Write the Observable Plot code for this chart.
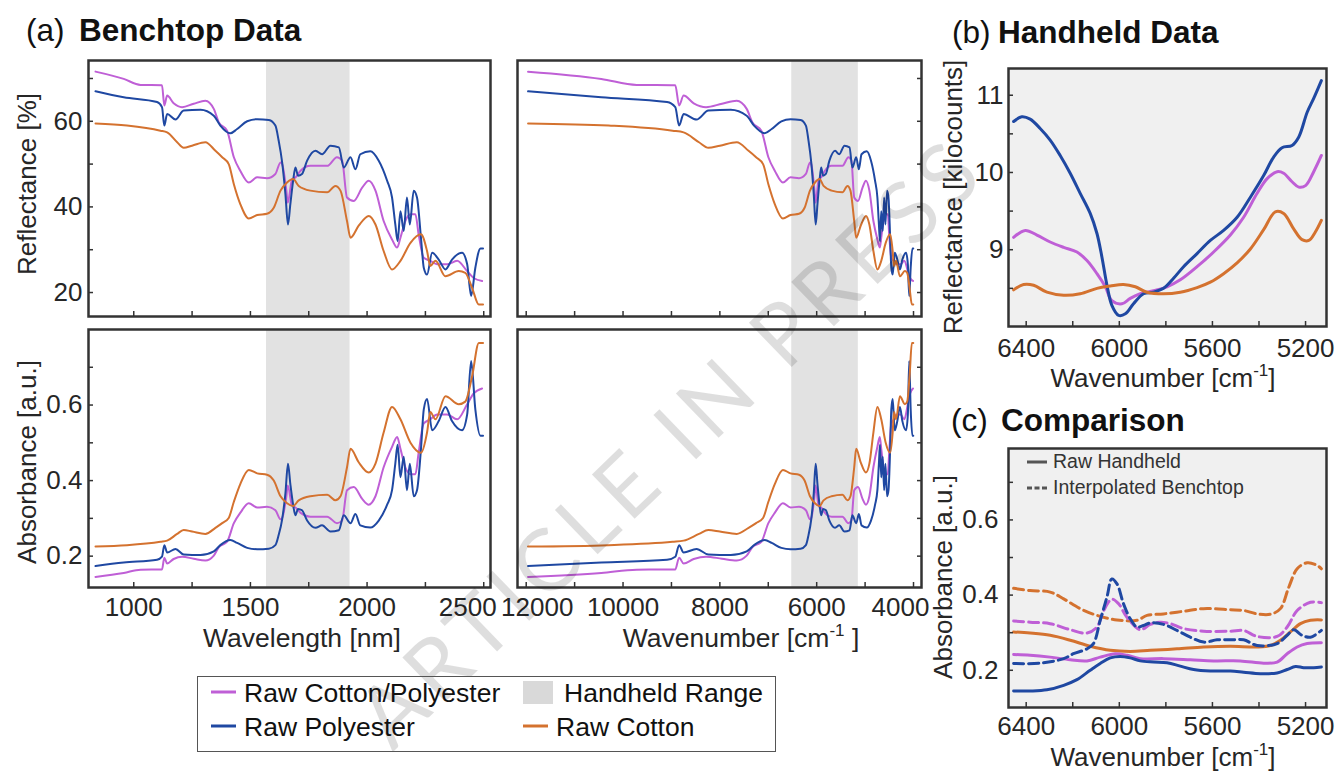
<!DOCTYPE html>
<html><head><meta charset="utf-8">
<script src="https://cdn.jsdelivr.net/npm/d3@7"></script>
<script src="https://cdn.jsdelivr.net/npm/@observablehq/plot@0.6"></script>
<style>
body{margin:0;background:#fff;}
#fig{position:relative;width:1340px;height:774px;overflow:hidden;background:#fff;font-family:Arial,"Liberation Sans",sans-serif;}
#fig svg{position:absolute;left:0;top:0;}
</style></head><body><div id="fig"></div>
<script>
// ---------- Benchtop reflectance spectra (wavelength nm, reflectance %) ----------
const cpNm = [836,957,1029,1121,1131,1143,1171,1207,1257,1307,1343,1364,1400,1429,1457,1493,1529,1571,1607,1629,1636,1654,1660,1679,1693,1714,1757,1829,1871,1893,1914,1943,1979,2007,2036,2071,2107,2129,2143,2164,2186,2207,2221,2243,2271,2300,2343,2386,2429,2457,2493];
const cpR  = [71.6,69.9,68.5,68.4,63.7,66.0,64.2,63.3,64.1,64.8,62.9,59.8,57.8,51.6,48.4,45.7,46.9,46.7,47.7,50.4,50.0,43.8,41.0,46.5,46.9,48.4,49.6,49.6,51.6,50.8,42.2,41.4,44.5,46.1,43.8,36.7,32.4,30.5,32.8,36.7,38.3,38.3,33.6,28.1,27.4,26.6,26.6,27.4,25.0,23.4,22.7];
const peNm = [836,957,1100,1121,1131,1143,1179,1214,1286,1343,1371,1414,1443,1486,1529,1579,1607,1621,1636,1650,1661,1671,1683,1693,1704,1721,1743,1779,1807,1843,1879,1900,1929,1950,1971,2014,2050,2086,2107,2121,2131,2143,2157,2171,2183,2200,2214,2231,2243,2257,2279,2307,2336,2364,2407,2429,2446,2464,2486,2497];
const peR  = [67.0,65.6,64.5,63.3,59.0,61.7,60.4,62.5,62.7,61.3,59.0,57.2,58.2,60.0,60.5,60.3,59.0,55.5,50.4,43.0,35.9,40.6,46.1,49.2,47.3,47.7,50.8,53.1,52.3,54.3,53.9,49.2,51.6,48.8,52.3,53.0,50.8,46.1,42.2,35.9,32.0,39.0,34.4,42.2,35.9,43.8,42.2,32.8,25.8,24.2,29.3,27.7,25.4,27.7,29.3,26.6,19.2,25.8,30.3,30.3];
const coNm = [836,971,1114,1143,1186,1214,1250,1307,1350,1379,1407,1429,1457,1493,1529,1571,1600,1629,1657,1683,1707,1757,1829,1864,1886,1914,1929,1964,2007,2036,2071,2107,2143,2186,2231,2257,2271,2293,2336,2393,2421,2450,2479,2497];
const coR  = [59.5,59.0,57.8,57.4,55.1,53.8,54.3,55.1,53.1,51.6,50.0,45.3,40.6,37.3,38.1,38.4,39.8,43.8,45.7,46.5,44.9,43.8,43.4,44.9,43.8,36.7,32.8,35.6,37.9,35.9,29.7,25.4,27.4,31.6,33.6,29.7,26.2,27.4,23.8,25.0,24.6,21.1,17.2,17.2];
const bandNm = [1569, 1927];
const bandCm = [6515, 5140];

// ---------- Handheld reflectance (wavenumber cm-1, kilocounts) ----------
const hhPeK = [6454,6419,6383,6340,6297,6254,6211,6168,6125,6096,6075,6053,6032,6003,5974,5939,5896,5853,5810,5767,5724,5666,5609,5552,5494,5437,5380,5337,5301,5258,5229,5193,5165,5132];
const hhPeV = [10.66,10.72,10.69,10.57,10.42,10.22,9.99,9.73,9.47,9.21,8.91,8.54,8.28,8.15,8.17,8.30,8.43,8.45,8.50,8.63,8.78,8.95,9.12,9.25,9.42,9.68,9.96,10.20,10.32,10.35,10.46,10.78,10.96,11.19];
const hhCpK = [6454,6404,6354,6297,6239,6182,6139,6096,6060,6032,5989,5953,5910,5853,5795,5738,5666,5595,5523,5466,5408,5365,5322,5294,5258,5229,5200,5165,5132];
const hhCpV = [9.16,9.25,9.19,9.10,9.03,8.97,8.86,8.69,8.52,8.34,8.30,8.37,8.43,8.47,8.52,8.61,8.78,8.97,9.19,9.42,9.73,9.92,10.01,9.99,9.88,9.81,9.83,10.01,10.22];
const hhCoK = [6454,6411,6368,6311,6239,6168,6096,6039,5982,5931,5881,5810,5738,5666,5609,5552,5494,5437,5380,5330,5294,5251,5215,5186,5158,5132];
const hhCoV = [8.48,8.55,8.54,8.45,8.41,8.43,8.50,8.53,8.55,8.52,8.45,8.43,8.45,8.51,8.58,8.69,8.83,9.01,9.26,9.49,9.47,9.27,9.13,9.12,9.23,9.38];

// ---------- Comparison: raw handheld absorbance (solid) ----------
const rawPeK = [6454,6383,6311,6239,6182,6125,6082,6039,5996,5953,5910,5853,5795,5738,5681,5609,5523,5466,5394,5322,5279,5243,5208,5165,5132];
const rawPeV = [0.145,0.145,0.148,0.160,0.175,0.200,0.218,0.233,0.237,0.233,0.225,0.222,0.220,0.211,0.202,0.198,0.198,0.195,0.191,0.193,0.202,0.210,0.207,0.207,0.209];
const rawCpK = [6454,6383,6297,6211,6139,6082,6017,5967,5910,5810,5695,5595,5480,5380,5322,5279,5236,5193,5132];
const rawCpV = [0.242,0.240,0.235,0.228,0.225,0.235,0.244,0.240,0.231,0.231,0.228,0.225,0.225,0.219,0.222,0.244,0.262,0.271,0.273];
const rawCoK = [6454,6383,6297,6211,6125,6039,5953,5867,5752,5638,5523,5408,5351,5308,5265,5222,5179,5132];
const rawCoV = [0.302,0.299,0.293,0.280,0.264,0.253,0.250,0.253,0.257,0.262,0.264,0.262,0.266,0.280,0.302,0.324,0.333,0.334];
// ---------- Comparison: interpolated benchtop absorbance (dashed) ----------
const intCoK = [6454,6383,6297,6239,6168,6096,6010,5924,5881,5810,5724,5638,5523,5466,5408,5351,5308,5272,5236,5193,5150,5132];
const intCoV = [0.418,0.412,0.408,0.390,0.364,0.346,0.334,0.333,0.346,0.350,0.357,0.364,0.361,0.359,0.350,0.349,0.364,0.421,0.470,0.486,0.479,0.470];
const intCpK = [6454,6383,6297,6211,6139,6096,6067,6032,6003,5967,5910,5867,5824,5781,5724,5638,5523,5466,5408,5322,5279,5236,5179,5132];
const intCpV = [0.331,0.328,0.324,0.308,0.299,0.315,0.359,0.389,0.377,0.341,0.308,0.322,0.328,0.324,0.311,0.304,0.304,0.306,0.290,0.290,0.315,0.359,0.381,0.380];
const intPeK = [6454,6340,6239,6197,6139,6111,6082,6053,6032,6010,5982,5953,5924,5896,5867,5810,5752,5695,5638,5580,5523,5466,5408,5322,5279,5251,5215,5179,5132];
const intPeV = [0.218,0.219,0.231,0.244,0.257,0.271,0.333,0.395,0.443,0.430,0.377,0.337,0.315,0.319,0.326,0.322,0.306,0.288,0.275,0.281,0.281,0.281,0.266,0.271,0.293,0.308,0.293,0.288,0.306];

// ---------- Ticks ----------
const nmTicks = [1000,1250,1500,1750,2000,2250,2500];
const nmLabels = [1000,1500,2000];
const nmEdgeLabels = [2500];
const cmTicks = [12000,11000,10000,9000,8000,7000,6000,5000,4000];
const cmLabels = [10000,8000,6000];
const cmLeftLabels = [12000];
const cmRightLabels = [4000];
const reflTicks = [20,30,40,50,60,70];
const reflLabels = [20,40,60];
const absTicks = [0.2,0.3,0.4,0.5,0.6,0.7];
const absLabels = [0.2,0.4,0.6];
const hhKTicks = [6400,6200,6000,5800,5600,5400,5200];
const hhKLabels = [6400,6000,5600,5200];
const hhVTicks = [8.5,9,9.5,10,10.5,11];
const hhVLabels = [9,10,11];

// ---------- Styling ----------
const C_CP = "#bf5fd6", C_PE = "#1f48a2", C_CO = "#d4722f";
const BAND = "#e2e2e2", FRAME = "#333", TXT = "#262626";
const W = 1340, H = 774;
const fig = document.getElementById("fig");

const pts = (xs, ys, fx = d => d, fy = d => d) => xs.map((x, i) => ({x: fx(x), y: fy(ys[i])}));
const toCm = nm => 1e7 / nm;
const toAbs = r => -Math.log10(r / 100);

function panel({frame: [x0, y0, x1, y1], xDomain, yDomain, marks}) {
  return Plot.plot({
    width: W, height: H,
    marginLeft: x0, marginRight: W - x1, marginTop: y0, marginBottom: H - y1,
    x: {domain: xDomain, axis: null, label: null},
    y: {domain: yDomain, axis: null, label: null},
    style: {background: "transparent", fontSize: "26px", fontFamily: "Arial, 'Liberation Sans', sans-serif", color: TXT, overflow: "visible"},
    marks
  });
}
const tickX = (ticks) => Plot.axisX({ticks, anchor: "bottom", tickSize: -5, tickFormat: () => "", strokeWidth: 1.5, stroke: FRAME, label: null});
const labX = (ticks, pad, dx = 0, fmt = d => String(d)) => Plot.axisX({ticks, anchor: "bottom", tickSize: 0, tickPadding: pad, dx, tickFormat: fmt, label: null});
const tickY = (ticks, anchor) => Plot.axisY({ticks, anchor, tickSize: -5, tickFormat: () => "", strokeWidth: 1.5, stroke: FRAME, label: null});
const labY = (ticks, pad, fmt = d => String(d)) => Plot.axisY({ticks, anchor: "left", tickSize: 0, tickPadding: pad, tickFormat: fmt, label: null});
const ln = (data, stroke, w = 2, extra = {}) => Plot.line(data, {x: "x", y: "y", stroke, strokeWidth: w, curve: "monotone-x", ...extra});
const band = (b) => Plot.rect([b], {x1: d => d[0], x2: d => d[1], fill: BAND});
const frm = () => Plot.frame({stroke: FRAME, strokeWidth: 2.5});

const nmDomain = [806, 2529];
const cmDomain = [12180, 3835];
const reflDomain = [14.4, 74.2];
const absDomain = [0.117, 0.80];
const f1 = d => d.toFixed(1);

// (a) reflectance vs wavelength
fig.append(panel({
  frame: [88, 60, 490, 316], xDomain: nmDomain, yDomain: reflDomain,
  marks: [band(bandNm),
    ln(pts(cpNm, cpR), C_CP), ln(pts(peNm, peR), C_PE), ln(pts(coNm, coR), C_CO),
    tickX(nmTicks), tickY(reflTicks, "left"), labY(reflLabels, 6), frm()]
}));
// (a) reflectance vs wavenumber
fig.append(panel({
  frame: [517, 60, 921, 316], xDomain: cmDomain, yDomain: reflDomain,
  marks: [band(bandCm),
    ln(pts(cpNm, cpR, toCm), C_CP), ln(pts(peNm, peR, toCm), C_PE), ln(pts(coNm, coR, toCm), C_CO),
    tickX(cmTicks), tickY(reflTicks, "right"), frm()]
}));
// (a) absorbance vs wavelength
fig.append(panel({
  frame: [88, 329, 490, 587], xDomain: nmDomain, yDomain: absDomain,
  marks: [band(bandNm),
    ln(pts(cpNm, cpR, d => d, toAbs), C_CP), ln(pts(peNm, peR, d => d, toAbs), C_PE), ln(pts(coNm, coR, d => d, toAbs), C_CO),
    tickX(nmTicks), labX(nmLabels, 10), labX(nmEdgeLabels, 10, -16), tickY(absTicks, "left"), labY(absLabels, 6, f1), frm()]
}));
// (a) absorbance vs wavenumber
fig.append(panel({
  frame: [517, 329, 921, 587], xDomain: cmDomain, yDomain: absDomain,
  marks: [band(bandCm),
    ln(pts(cpNm, cpR, toCm, toAbs), C_CP), ln(pts(peNm, peR, toCm, toAbs), C_PE), ln(pts(coNm, coR, toCm, toAbs), C_CO),
    tickX(cmTicks), labX(cmLabels, 10), labX(cmLeftLabels, 10, 11), labX(cmRightLabels, 10, -13), tickY(absTicks, "right"), frm()]
}));
// (b) handheld
const smooth = {curve: "catmull-rom"};
fig.append(panel({
  frame: [1008, 68, 1326, 326], xDomain: [6476, 5110], yDomain: [8.006, 11.346],
  marks: [Plot.frame({fill: "#f0f0f0"}),
    ln(pts(hhCpK, hhCpV), C_CP, 3, smooth), ln(pts(hhPeK, hhPeV), C_PE, 3, smooth), ln(pts(hhCoK, hhCoV), C_CO, 3, smooth),
    tickX(hhKTicks), labX(hhKLabels, 12), tickY(hhVTicks, "left"), labY(hhVLabels, 5), frm()]
}));
// (c) comparison
const dash = {curve: "catmull-rom", strokeDasharray: "10,5"};
fig.append(panel({
  frame: [1008, 448, 1326, 707], xDomain: [6476, 5110], yDomain: [0.101, 0.79],
  marks: [Plot.frame({fill: "#f0f0f0"}),
    ln(pts(rawCoK, rawCoV), C_CO, 3, smooth), ln(pts(rawCpK, rawCpV), C_CP, 3, smooth), ln(pts(rawPeK, rawPeV), C_PE, 3, smooth),
    ln(pts(intCoK, intCoV), C_CO, 3, dash), ln(pts(intCpK, intCpV), C_CP, 3, dash), ln(pts(intPeK, intPeV), C_PE, 3, dash),
    tickX(hhKTicks), labX(hhKLabels, 9.5), tickY(absTicks, "left"), labY(absLabels, 10, f1), frm()]
}));

// ---------- Overlay text: titles, axis labels, legends, watermark ----------
const ov = d3.select(fig).append("svg").attr("width", W).attr("height", H)
  .style("font-family", "Arial, 'Liberation Sans', sans-serif");
function txt(x, y, s, o = {}) {
  const t = ov.append("text").attr("x", x).attr("y", y)
    .attr("font-size", o.size || 26).attr("font-weight", o.weight || "normal")
    .attr("text-anchor", o.anchor || "start").attr("fill", o.fill || TXT);
  if (o.rotate) t.attr("transform", `rotate(${o.rotate},${x},${y})`);
  if (o.sup) {
    t.append("tspan").text(s);
    t.append("tspan").attr("dy", -11).attr("font-size", 17).text(o.sup);
    t.append("tspan").attr("dy", 11).text(o.after || "");
  } else t.text(s);
  return t;
}
// watermark (drawn first, under the overlay texts)
ov.append("text").attr("transform", "translate(668,440) rotate(-44)")
  .attr("text-anchor", "middle").attr("dominant-baseline", "central")
  .attr("font-family", "Lato, 'Open Sans', sans-serif").attr("font-weight", 400)
  .attr("font-size", 86).attr("letter-spacing", 7)
  .attr("fill", "#000").attr("fill-opacity", 0.13)
  .text("ARTICLE IN PRESS");
// titles
txt(26, 41, "(a)", {size: 31.5, fill: "#111"});
txt(79, 41, "Benchtop Data", {size: 31.5, weight: "bold", fill: "#111"});
txt(952, 43, "(b)", {size: 31.5, fill: "#111"});
txt(998, 43, "Handheld Data", {size: 31.5, weight: "bold", fill: "#111"});
txt(951, 431, "(c)", {size: 31.5, fill: "#111"});
txt(1001, 431, "Comparison", {size: 31.5, weight: "bold", fill: "#111"});
// axis labels
txt(36, 184, "Reflectance [%]", {anchor: "middle", rotate: -90});
txt(36, 462, "Absorbance [a.u.]", {anchor: "middle", rotate: -90});
txt(302, 647, "Wavelength [nm]", {anchor: "middle", size: 26.5});
txt(741, 647, "Wavenumber [cm", {anchor: "middle", sup: "-1", after: " ]", size: 26.5});
txt(962, 197, "Reflectance [kilocounts]", {anchor: "middle", rotate: -90});
txt(1163, 387, "Wavenumber [cm", {anchor: "middle", sup: "-1", after: "]"});
txt(952, 577, "Absorbance [a.u.]", {anchor: "middle", rotate: -90});
txt(1163, 766, "Wavenumber [cm", {anchor: "middle", sup: "-1", after: "]"});
// (c) inner legend
ov.append("line").attr("x1", 1027).attr("x2", 1047).attr("y1", 462).attr("y2", 462).attr("stroke", "#555").attr("stroke-width", 3);
ov.append("line").attr("x1", 1027).attr("x2", 1047).attr("y1", 488).attr("y2", 488).attr("stroke", "#555").attr("stroke-width", 3).attr("stroke-dasharray", "5,2.5");
txt(1053, 468, "Raw Handheld", {size: 19.5, fill: "#333"});
txt(1053, 494, "Interpolated Benchtop", {size: 19.5, fill: "#333"});
// bottom legend
ov.append("rect").attr("x", 197.5).attr("y", 676.5).attr("width", 578).attr("height", 75).attr("fill", "#fff").attr("fill-opacity", 0).attr("stroke", "#555").attr("stroke-width", 1);
const legendItems = [
  {x: 211, y: 692, label: "Raw Cotton/Polyester", color: C_CP, kind: "line"},
  {x: 211, y: 726, label: "Raw Polyester", color: C_PE, kind: "line"},
  {x: 523, y: 692, label: "Handheld Range", color: "#d9d9d9", kind: "box"},
  {x: 523, y: 726, label: "Raw Cotton", color: C_CO, kind: "line"}
];
legendItems.forEach(d => {
  if (d.kind === "box") ov.append("rect").attr("x", d.x).attr("y", d.y - 11).attr("width", 30).attr("height", 23).attr("fill", d.color);
  else ov.append("line").attr("x1", d.x).attr("x2", d.x + 25).attr("y1", d.y).attr("y2", d.y).attr("stroke", d.color).attr("stroke-width", 3);
  txt(d.x + (d.kind === "box" ? 41 : 33), d.y + 9.5, d.label, {fill: "#111", size: 26.5});
});
</script></body></html>
